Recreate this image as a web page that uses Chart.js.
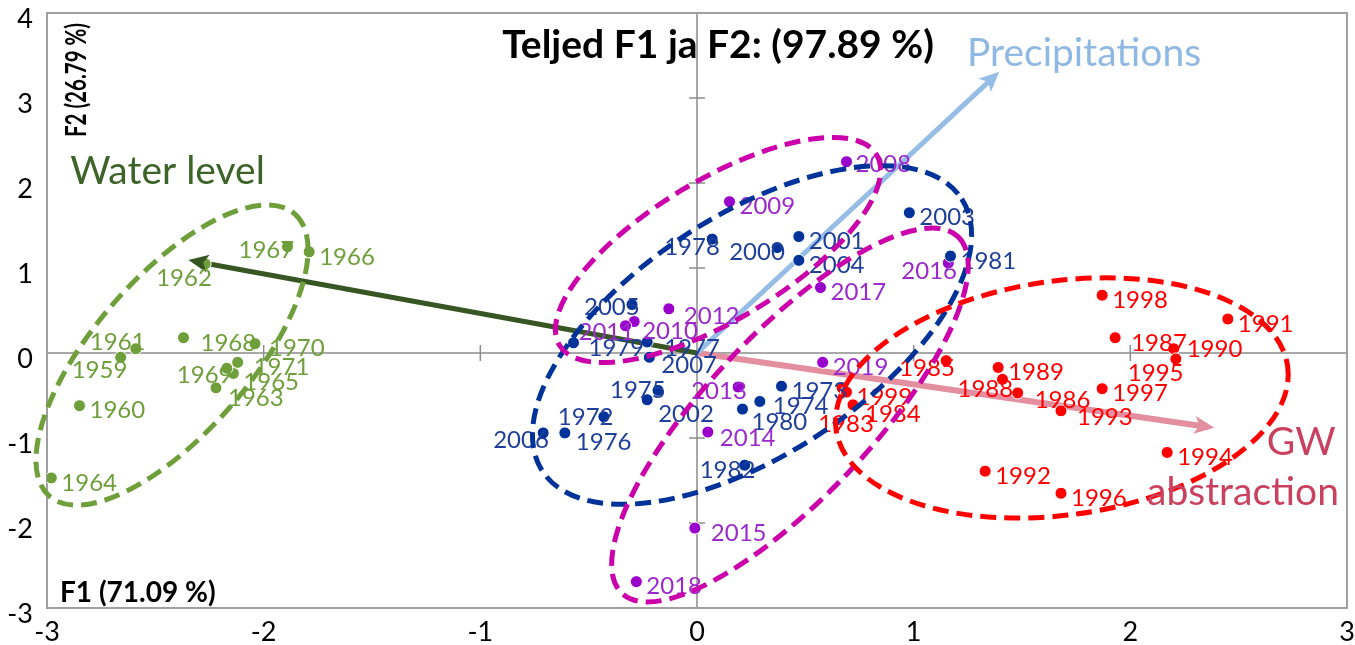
<!doctype html>
<html lang="en">
<head>
<meta charset="utf-8">
<style>
  html, body { margin: 0; padding: 0; background: #fff; }
  #chart { display: block; }
</style>
<script src="https://cdn.jsdelivr.net/npm/chart.js@4.4.0/dist/chart.umd.min.js"></script>
</head>
<body>
<canvas id="chart" width="1355" height="645"></canvas>
<script>
// PCA scores (F1, F2) per year, one group per period
const yrs1959_71 = [1959, 1960, 1961, 1962, 1963, 1964, 1965, 1966, 1967, 1968, 1969, 1970, 1971];
const f1_1959_71 = [-2.66, -2.85, -2.59, -2.27, -2.22, -2.98, -2.14, -1.79, -1.89, -2.37, -2.17, -2.04, -2.12];
const f2_1959_71 = [-0.05, -0.62, 0.05, 1.05, -0.41, -1.47, -0.24, 1.19, 1.25, 0.18, -0.18, 0.11, -0.11];

const yrsMid = [1972, 1973, 1974, 1975, 1976, 1977, 1978, 1979, 1980, 1981, 1982,
                2000, 2001, 2002, 2003, 2004, 2005, 2006, 2007];
const f1Mid = [-0.43, 0.39, 0.29, -0.18, -0.61, -0.23, 0.07, -0.57, 0.21, 1.17, 0.22,
               0.37, 0.47, -0.23, 0.98, 0.47, -0.30, -0.71, -0.22];
const f2Mid = [-0.75, -0.39, -0.57, -0.44, -0.94, 0.13, 1.34, 0.12, -0.66, 1.14, -1.32,
               1.24, 1.37, -0.55, 1.65, 1.09, 0.57, -0.94, -0.05];

const yrs1983_99 = [1983, 1984, 1985, 1986, 1987, 1988, 1989, 1990, 1991, 1992, 1993, 1994, 1995, 1996, 1997, 1998, 1999];
const f1_1983_99 = [0.67, 0.72, 1.15, 1.48, 1.93, 1.41, 1.39, 2.20, 2.45, 1.33, 1.68, 2.17, 2.21, 1.68, 1.87, 1.87, 0.69];
const f2_1983_99 = [-0.41, -0.61, -0.09, -0.47, 0.18, -0.31, -0.17, 0.05, 0.40, -1.39, -0.68, -1.17, -0.07, -1.65, -0.42, 0.68, -0.46];

const yrs2008_19 = [2008, 2009, 2010, 2011, 2012, 2013, 2014, 2015, 2016, 2017, 2018, 2019];
const f1_2008_19 = [0.69, 0.15, -0.29, -0.33, -0.13, 0.19, 0.05, -0.01, 1.16, 0.57, -0.28, 0.58];
const f2_2008_19 = [2.25, 1.78, 0.37, 0.32, 0.52, -0.40, -0.93, -2.06, 1.06, 0.77, -2.69, -0.11];

// variable loadings (arrows)
const vecNames = ['Water level', 'Precipitations', 'GW abstraction'];
const vecF1 = [-2.32, 1.375, 2.36];
const vecF2 = [1.08, 3.26, -0.87];

const xTicks = [-3, -2, -1, 0, 1, 2, 3];
const yTicks = [-3, -2, -1, 0, 1, 2, 3, 4];

const FONT = 'Lato, "Open Sans", sans-serif';

// label placement tweaks: [dx of label left edge, dy of label centre] from the dot
const labelAt = {
  1959: [-49, 13], 1961: [-46, -6], 1962: [-49, 15], 1967: [-49, 4], 1968: [17, 6],
  1969: [-50, 7], 1970: [14, 5], 1971: [16, 5], 1965: [10, 9], 1963: [12, 10],
  1978: [-48, 8], 2000: [-48, 5], 2005: [-48, 3], 2011: [-47, 6], 2010: [8, 10],
  2012: [15, 7], 1979: [15, 5], 1977: [17, 6], 2007: [12, 8], 1975: [-48, 0],
  2002: [11, 15], 2013: [-47, 4], 1974: [13, 5], 1980: [9, 13], 1972: [-46, 1],
  2006: [-50, 7], 1976: [11, 9], 2014: [12, 6], 1982: [-45, 5], 2015: [16, 5],
  1985: [-47, 8], 1988: [-45, 10], 1995: [-48, 14], 1983: [-24, 36], 1984: [12, 9],
  2016: [-47, 8], 1987: [16, 6], 1990: [13, 1], 1986: [17, 7], 1993: [16, 6], 2008: [9, 3]
};

// dashed group outlines: centre in data units, half axes in px, tilt in degrees
const outlines = [
  { c: [-2.423, -0.024], a: 187, b: 78, rot: -49, color: '#6f9f3b' },
  { c: [0.254, 0.212], a: 250, b: 120, rot: -33, color: '#003399' },
  { c: [0.097, 1.212], a: 185, b: 70, rot: -31, color: '#cc00aa' },
  { c: [0.429, -0.729], a: 245, b: 82, rot: -46.7, color: '#cc00aa' },
  { c: [1.684, -0.529], a: 228, b: 117, rot: -8, color: '#ff0000' }
];

const toXY = (a, b) => a.map((v, i) => ({ x: v, y: b[i] }));

function scoreSet(years, f1, f2, dot, text) {
  return {
    type: 'scatter',
    data: toXY(f1, f2),
    years: years,
    textColor: text,
    backgroundColor: dot,
    borderColor: '#ffffff',
    borderWidth: 1,
    pointRadius: 6
  };
}

const vecColors = ['#375623', '#95bde5', '#e48fa0'];
const vecWidths = [5, 5, 6];

const datasets = [
  scoreSet(yrs1959_71, f1_1959_71, f2_1959_71, '#6f9f3b', '#6f9f3b'),
  scoreSet(yrsMid, f1Mid, f2Mid, '#003399', '#1f3f9a'),
  scoreSet(yrs1983_99, f1_1983_99, f2_1983_99, '#ff0000', '#ff0000'),
  scoreSet(yrs2008_19, f1_2008_19, f2_2008_19, '#9900cc', '#9a2acc')
];
vecNames.forEach((n, i) => {
  datasets.push({
    type: 'line',
    label: n,
    data: [{ x: 0, y: 0 }, { x: vecF1[i], y: vecF2[i] }],
    borderColor: vecColors[i],
    borderWidth: vecWidths[i],
    pointRadius: 0,
    isVector: true
  });
});

const extras = {
  id: 'extras',
  beforeDatasetsDraw(chart) {
    const ctx = chart.ctx, a = chart.chartArea;
    const xs = chart.scales.x, ys = chart.scales.y;
    const x0 = xs.getPixelForValue(0), y0 = ys.getPixelForValue(0);
    ctx.save();
    ctx.strokeStyle = '#8c8c8c';
    ctx.lineWidth = 1.5;
    ctx.beginPath();
    ctx.moveTo(x0, a.top); ctx.lineTo(x0, a.bottom);
    ctx.moveTo(a.left, y0); ctx.lineTo(a.right, y0);
    xTicks.forEach(t => {
      if (t === 0 || t === xTicks[0] || t === xTicks[xTicks.length - 1]) return;
      const px = xs.getPixelForValue(t);
      ctx.moveTo(px, y0 - 8); ctx.lineTo(px, y0 + 8);
    });
    yTicks.forEach(t => {
      if (t === 0 || t === yTicks[0] || t === yTicks[yTicks.length - 1]) return;
      const py = ys.getPixelForValue(t);
      ctx.moveTo(x0 - 8, py); ctx.lineTo(x0 + 8, py);
    });
    ctx.stroke();
    ctx.strokeStyle = '#a0a0a0';
    ctx.lineWidth = 2;
    ctx.strokeRect(a.left, a.top, a.right - a.left, a.bottom - a.top);
    ctx.restore();
  },
  afterDatasetsDraw(chart) {
    const ctx = chart.ctx, a = chart.chartArea;
    const xs = chart.scales.x, ys = chart.scales.y;
    ctx.save();

    // arrow heads
    chart.data.datasets.forEach((ds, i) => {
      if (!ds.isVector) return;
      const pts = chart.getDatasetMeta(i).data;
      const p0 = pts[0], p1 = pts[1];
      const ang = Math.atan2(p1.y - p0.y, p1.x - p0.x);
      ctx.save();
      ctx.translate(p1.x, p1.y);
      ctx.rotate(ang);
      ctx.fillStyle = ds.borderColor;
      ctx.beginPath();
      ctx.moveTo(6, 0);
      ctx.lineTo(-14, -9);
      ctx.lineTo(-9, 0);
      ctx.lineTo(-14, 9);
      ctx.closePath();
      ctx.fill();
      ctx.restore();
    });

    // year labels
    ctx.font = '24px ' + FONT;
    ctx.textAlign = 'left';
    ctx.textBaseline = 'middle';
    chart.data.datasets.forEach((ds, i) => {
      if (!ds.years) return;
      ctx.fillStyle = ds.textColor;
      chart.getDatasetMeta(i).data.forEach((pt, j) => {
        const yr = ds.years[j];
        const off = labelAt[yr] || [10, 5];
        ctx.fillText(String(yr), pt.x + off[0], pt.y + off[1]);
      });
    });

    // dashed group outlines
    ctx.lineWidth = 5;
    ctx.setLineDash([16, 8]);
    outlines.forEach(o => {
      ctx.strokeStyle = o.color;
      ctx.beginPath();
      ctx.ellipse(xs.getPixelForValue(o.c[0]), ys.getPixelForValue(o.c[1]),
        o.a, o.b, o.rot * Math.PI / 180, 0, Math.PI * 2);
      ctx.stroke();
    });
    ctx.setLineDash([]);

    // variable names
    ctx.textBaseline = 'alphabetic';
    ctx.font = '39px ' + FONT;
    ctx.fillStyle = '#3d6428';
    ctx.fillText('Water level', xs.getPixelForValue(-2.893), ys.getPixelForValue(1.988));
    ctx.fillStyle = '#8fb8e2';
    ctx.fillText('Precipitations', xs.getPixelForValue(1.246), ys.getPixelForValue(3.376));
    ctx.fillStyle = '#c9415e';
    ctx.fillText('GW', xs.getPixelForValue(2.63), ys.getPixelForValue(-1.2));
    ctx.fillText('abstraction', xs.getPixelForValue(2.077), ys.getPixelForValue(-1.788));

    // titles
    ctx.fillStyle = '#000';
    ctx.font = 'bold 39px ' + FONT;
    ctx.textAlign = 'center';
    ctx.fillText('Teljed F1 ja F2: (97.89 %)', 718, 58);
    ctx.textAlign = 'left';
    ctx.font = 'bold 28px ' + FONT;
    ctx.fillText('F1 (71.09 %)', a.left + 13, a.bottom - 6);

    ctx.save();
    ctx.translate(a.left + 39, a.top + 124);
    ctx.rotate(-Math.PI / 2);
    ctx.font = 'bold 28px ' + FONT;
    const s = 'F2 (26.79 %)';
    const w = ctx.measureText(s).width;
    ctx.scale(114 / w, 1);
    ctx.fillText(s, 0, 0);
    ctx.restore();

    ctx.restore();
  }
};

new Chart(document.getElementById('chart'), {
  type: 'scatter',
  data: { datasets: datasets },
  plugins: [extras],
  options: {
    responsive: false,
    animation: false,
    devicePixelRatio: 1,
    layout: { padding: { top: 13, right: 8, left: 0, bottom: 0 } },
    plugins: { legend: { display: false }, tooltip: { enabled: false } },
    scales: {
      x: {
        type: 'linear',
        min: xTicks[0],
        max: xTicks[xTicks.length - 1],
        grid: { display: false, drawTicks: false },
        border: { display: false },
        ticks: { stepSize: 1, color: '#000', padding: 8, font: { family: FONT, size: 27 } },
        afterFit(s) { s.height = 37; s.paddingLeft = 0; s.paddingRight = 0; }
      },
      y: {
        type: 'linear',
        min: yTicks[0],
        max: yTicks[yTicks.length - 1],
        grid: { display: false, drawTicks: false },
        border: { display: false },
        ticks: { stepSize: 1, color: '#000', padding: 14, labelOffset: 6, font: { family: FONT, size: 27 } },
        afterFit(s) { s.width = 47; s.paddingTop = 0; s.paddingBottom = 0; }
      }
    }
  }
});
</script>
</body>
</html>
